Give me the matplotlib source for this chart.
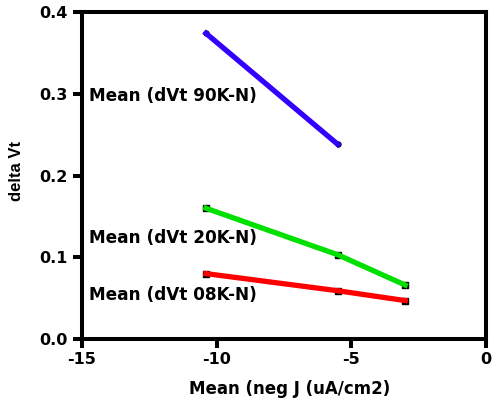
import matplotlib
matplotlib.use("Agg")
import matplotlib.pyplot as plt

# --- data ---
x_90k = [-10.4, -5.5]
y_90k = [0.374, 0.238]

x_20k = [-10.4, -5.5, -3.0]
y_20k = [0.160, 0.103, 0.066]

x_08k = [-10.4, -5.5, -3.0]
y_08k = [0.080, 0.059, 0.047]

labels = ["Mean (dVt 90K-N)", "Mean (dVt 20K-N)", "Mean (dVt 08K-N)"]
label_pos = [(-14.74, 0.297), (-14.74, 0.1235), (-14.74, 0.054)]

xticks = [-15, -10, -5, 0]
yticks = [0.0, 0.1, 0.2, 0.3, 0.4]
ytick_labels = ["0.0", "0.1", "0.2", "0.3", "0.4"]

plt.rcParams['font.family'] = ['DejaVu Sans']
plt.rcParams['font.weight'] = 'bold'
plt.rcParams['axes.unicode_minus'] = False

fig = plt.figure(figsize=(4.92, 4.00), dpi=100)
ax = fig.add_axes([0.1667, 0.1525, 0.8211, 0.8175])

# markers sit under the lines, like the reference
ax.plot(x_08k, y_08k, 's', color='black', markersize=4.5, zorder=2)
ax.plot(x_20k, y_20k, 's', color='black', markersize=4.5, zorder=2)
ax.plot(x_90k, y_90k, 'o', color='black', markersize=3.5, zorder=2)

ax.plot(x_90k, y_90k, color='#3300ff', linewidth=3.8, zorder=3)
ax.plot(x_20k, y_20k, color='#00e000', linewidth=3.8, zorder=3)
ax.plot(x_08k, y_08k, color='#ff0000', linewidth=3.8, zorder=3)

for text, (tx, ty) in zip(labels, label_pos):
    ax.text(tx, ty, text, fontsize=12.2, fontweight='bold', va='center', ha='left')

ax.set_xlim(-15, 0)
ax.set_ylim(0, 0.4)
ax.set_xticks(xticks)
ax.set_yticks(yticks)
ax.set_yticklabels(ytick_labels)

for s in ax.spines.values():
    s.set_linewidth(2.9)
ax.tick_params(width=2.9, length=6.5, labelsize=11.5)
ax.tick_params(axis='x', pad=3)
ax.tick_params(axis='y', pad=4)
for lab in ax.get_xticklabels() + ax.get_yticklabels():
    lab.set_fontweight('bold')

ax.set_xlabel("Mean (neg J (uA/cm2)", fontsize=12, fontweight='bold')
ax.xaxis.set_label_coords(0.515, -0.125)
ax.set_ylabel("delta Vt", fontsize=12, fontweight='bold',
              family=['Liberation Sans', 'DejaVu Sans'])
ax.yaxis.set_label_coords(-0.143, 0.514)

fig.savefig("out.png", dpi=100)
